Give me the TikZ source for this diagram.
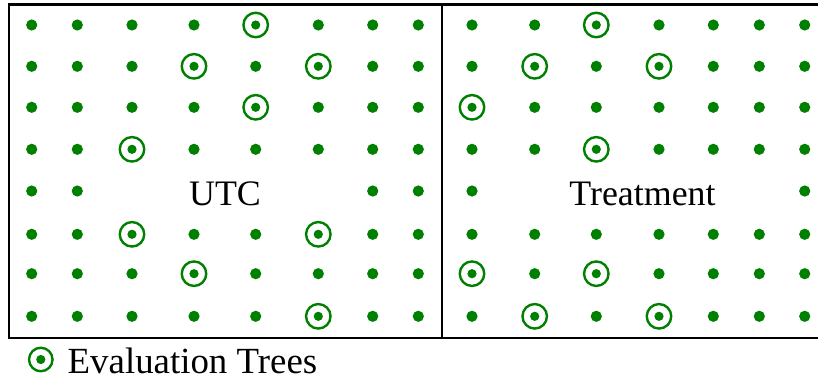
\documentclass[tikz,border=0pt]{standalone}
\usepackage{fontspec}
\setmainfont{Liberation Serif}
\definecolor{treegreen}{RGB}{0,128,0}
\begin{document}
\begin{tikzpicture}[x=1bp,y=1bp,
  treedot/.style={circle,fill=treegreen,inner sep=0pt,minimum size=11.2bp},
  evaltree/.style={circle,draw=treegreen,line width=2.4bp,inner sep=0pt,minimum size=24.5bp,
    path picture={\fill[treegreen] (path picture bounding box.center) circle (4.6bp);}},
  plotlabel/.style={inner sep=0pt,font=\fontsize{36}{40}\selectfont},
  frame/.style={line width=2.3bp,black}]
\useasboundingbox (0,0) rectangle (818,379);

% plot frames (the right one runs off the page edge)
\draw[frame] (822,374.5) -- (9.3,374.5) -- (9.3,41) -- (822,41);
\draw[frame] (442.2,374.5) -- (442.2,41);

% row positions from the top; 0 = empty, 1 = tree, 2 = evaluation tree
\def\utcxs{{31.7,77.3,132,194,255.7,318.3,372.7,418.3}}
\def\trtxs{{472,534.7,596.3,659,713.3,759.3,804.7}}

\foreach \r/\py/\codes in {
  1/25/{1,1,1,1,2,1,1,1},
  2/66.3/{1,1,1,2,1,2,1,1},
  3/107.3/{1,1,1,1,2,1,1,1},
  4/149.3/{1,1,2,1,1,1,1,1},
  5/191/{1,1,0,0,0,0,1,1},
  6/234.3/{1,1,2,1,1,2,1,1},
  7/273.7/{1,1,1,2,1,1,1,1},
  8/316.3/{1,1,1,1,1,2,1,1}}{
  \foreach \k [count=\c] in \codes {
    \pgfmathsetmacro\px{\utcxs[\c-1]}
    \ifnum\k=1 \node[treedot] (U-\r-\c) at (\px,{379-\py}) {};\fi
    \ifnum\k=2 \node[evaltree] (U-\r-\c) at (\px,{379-\py}) {};\fi
  }
}

\foreach \r/\py/\codes in {
  1/25/{1,1,2,1,1,1,1},
  2/66.3/{1,2,1,2,1,1,1},
  3/107.3/{2,1,1,1,1,1,1},
  4/149.3/{1,1,2,1,1,1,1},
  5/191/{1,0,0,0,0,0,1},
  6/234.3/{1,1,1,1,1,1,1},
  7/273.7/{2,1,2,1,1,1,1},
  8/316.3/{1,2,1,2,1,1,1}}{
  \foreach \k [count=\c] in \codes {
    \pgfmathsetmacro\px{\trtxs[\c-1]}
    \ifnum\k=1 \node[treedot] (T-\r-\c) at (\px,{379-\py}) {};\fi
    \ifnum\k=2 \node[evaltree] (T-\r-\c) at (\px,{379-\py}) {};\fi
  }
}

% plot titles
\node[plotlabel,anchor=base] (utc) at (225,173.3) {UTC};
\node[plotlabel,anchor=base] (treatment) at (642.5,173.3) {Treatment};

% key
\node[evaltree,minimum size=23.5bp] (keymark) at (40.8,19.5) {};
\node[plotlabel,font=\fontsize{37}{40}\selectfont,anchor=base west] (keytext) at (67.5,5.2) {Evaluation Trees};
\end{tikzpicture}
\end{document}
